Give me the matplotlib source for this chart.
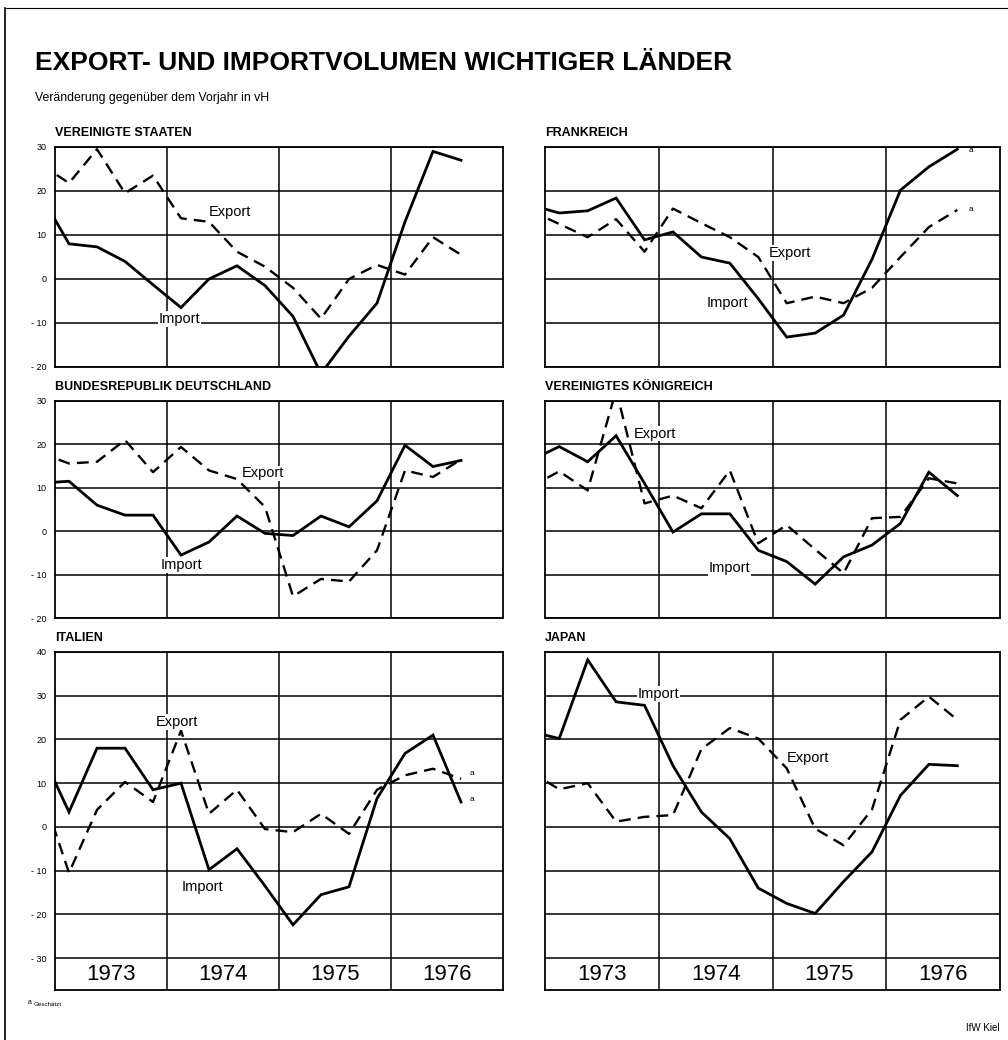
import numpy as np
import matplotlib
matplotlib.use("Agg")
import matplotlib.pyplot as plt

plt.rcParams['font.family'] = ['Liberation Sans', 'DejaVu Sans']

# quarterly change vs. previous year (vH), Q4 1972 .. Q3 1976
quarters = np.arange(16) - 0.5
years = ['1973', '1974', '1975', '1976']

us_imp = [19, 8, 7.3, 4, -1.3, -6.5, 0, 3, -1.5, -8.5, -21.5, -13, -5.5, 13, 29, 27]
us_exp = [26, 21.8, 29.5, 19.5, 23.5, 13.8, 13, 6.2, 2.8, -2, -9, 0, 3.2, 1, 9.5, 5.5]
fr_imp = [16.8, 15, 15.5, 18.4, 8.9, 10.7, 5, 3.6, -4.5, -13.2, -12.3, -8.2, 4.5, 20.2, 25.5, 29.5]
fr_exp = [15.5, 12.5, 9.5, 13.6, 6.2, 16, 12.7, 9.5, 5, -5.5, -4, -5.5, -2, 5, 11.8, 15.7]
de_imp = [11.1, 11.5, 6, 3.7, 3.7, -5.5, -2.5, 3.5, -0.5, -1, 3.5, 1, 7, 19.8, 14.9, 16.3]
de_exp = [18, 15.6, 16, 21, 13.6, 19.4, 14, 12, 5.6, -15, -11, -11.6, -4.4, 14, 12.5, 16.5]
uk_imp = [16.3, 19.5, 16, 22, 11, -0.2, 4, 4, -4.4, -7, -12.2, -5.9, -3.2, 1.8, 13.6, 8.2]
uk_exp = [10.2, 13.8, 9.4, 32.5, 6.4, 8.2, 5.3, 14, -2.8, 1.4, -4.2, -9.7, 3, 3.3, 12.2, 11]
it_imp = [17.2, 3.4, 18, 18, 8.5, 10, -9.8, -5, -13.5, -22.4, -15.5, -13.7, 6.5, 16.8, 21, 5.7]
it_exp = [8.6, -10.5, 3.9, 10.3, 5.7, 22, 3, 8.5, -0.5, -1.2, 3, -1.6, 8.5, 11.8, 13.3, 11]
jp_imp = [21.8, 20.2, 38.2, 28.6, 27.8, 14, 3.4, -2.7, -14, -17.5, -19.8, -12.5, -5.7, 7.2, 14.3, 14]
jp_exp = [12.6, 8.6, 10, 1.2, 2.3, 2.7, 17.8, 22.6, 20.2, 13.4, -0.4, -4.2, 4, 24.5, 29.8, 24.5]

W, H = 1008, 1040
fig = plt.figure(figsize=(W / 100, H / 100), dpi=100)


def box(x0, y0, x1, y1):
    return [x0 / W, 1 - y1 / H, (x1 - x0) / W, (y1 - y0) / H]


def panel(rect, title, imp, exp, ymin, ymax, left, labels, notes=(), strip=False):
    ax = fig.add_axes(rect)
    lo = ymin - 7.3 if strip else ymin
    ax.set_xlim(0, 16)
    ax.set_ylim(lo, ymax)
    ax.plot(quarters, imp, color='black', lw=2.0, solid_joinstyle='miter', zorder=3)
    ax.plot(quarters, exp, color='black', lw=1.7, ls=(0, (5, 3)), zorder=3)
    ticks = np.arange(ymin, ymax + 1, 10)
    for t in ticks:
        ax.axhline(t, color='black', lw=1.1, zorder=1)
    for q in [4, 8, 12]:
        ax.axvline(q, color='black', lw=1.1, zorder=1)
    ax.set_xticks([])
    ax.set_yticks(ticks)
    if left:
        ax.set_yticklabels([str(t) if t >= 0 else '- ' + str(-t) for t in ticks], fontsize=6.5)
    else:
        ax.set_yticklabels([])
    ax.tick_params(axis='y', length=0, pad=6)
    for s in ax.spines.values():
        s.set_linewidth(1.3)
    ax.text(0, 1.0 + 8 / (rect[3] * H), title, transform=ax.transAxes,
            fontsize=9, fontweight='bold', va='bottom', ha='left')
    for txt, x, y in labels:
        ax.text(x, y, txt, fontsize=10.5, ha='center', va='center', zorder=4,
                bbox=dict(facecolor='white', edgecolor='none', pad=0.5))
    for x, y in notes:
        ax.text(x, y, 'a', fontsize=6, ha='left', va='center', zorder=4)
    if strip:
        for i, yr in enumerate(years):
            ax.text(4 * i + 2, ymin - 3.65, yr, fontsize=16, ha='center', va='center')
    return ax


panel(box(55, 147, 503, 367), 'VEREINIGTE STAATEN', us_imp, us_exp, -20, 30, True,
      [('Export', 6.25, 15.2), ('Import', 4.46, -9.1)])
panel(box(545, 147, 1000, 367), 'FRANKREICH', fr_imp, fr_exp, -20, 30, False,
      [('Export', 8.6, 5.9), ('Import', 6.4, -5.5)], notes=[(14.9, 29.3), (14.9, 15.7)])
panel(box(55, 401, 503, 618), 'BUNDESREPUBLIK DEUTSCHLAND', de_imp, de_exp, -20, 30, True,
      [('Export', 7.43, 13.3), ('Import', 4.5, -7.8)])
panel(box(545, 401, 1000, 618), 'VEREINIGTES KÖNIGREICH', uk_imp, uk_exp, -20, 30, False,
      [('Export', 3.87, 22.5), ('Import', 6.5, -8.5)])
panel(box(55, 652, 503, 990), 'ITALIEN', it_imp, it_exp, -30, 40, True,
      [('Export', 4.35, 24), ('Import', 5.27, -13.7)], notes=[(14.8, 12.1), (14.8, 6.2)], strip=True)
panel(box(545, 652, 1000, 990), 'JAPAN', jp_imp, jp_exp, -30, 40, False,
      [('Import', 4.0, 30.4), ('Export', 9.25, 15.8)], strip=True)

fig.text(35 / W, 1 - 63 / H, 'EXPORT- UND IMPORTVOLUMEN WICHTIGER LÄNDER',
         fontsize=19, fontweight='bold', va='center', ha='left')
fig.text(35 / W, 1 - 98 / H, 'Veränderung gegenüber dem Vorjahr in vH',
         fontsize=8.8, va='center', ha='left')
fig.text(28 / W, 1 - 1002 / H, 'a', fontsize=5, va='center', ha='left')
fig.text(34 / W, 1 - 1005 / H, 'Geschätzt', fontsize=4.5, va='center', ha='left')
fig.text(1000 / W, 1 - 1028 / H, 'IfW Kiel', fontsize=7, va='center', ha='right')

# page frame of the scanned sheet
fig.add_artist(plt.Line2D([5 / W, 5 / W], [0, 1 - 8 / H], color='black', lw=1.2))
fig.add_artist(plt.Line2D([5 / W, 1], [1 - 8 / H, 1 - 8 / H], color='black', lw=0.8))

fig.savefig('out.png', dpi=100, facecolor='white')
